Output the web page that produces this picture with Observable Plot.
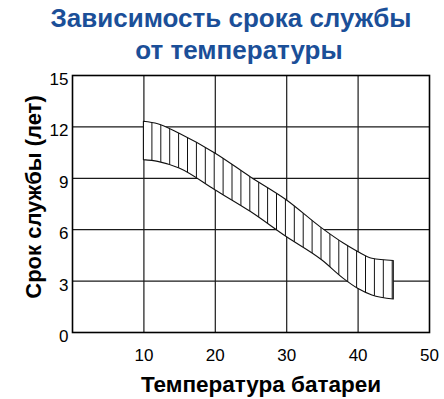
<!DOCTYPE html>
<html><head><meta charset="utf-8">
<script src="https://cdn.jsdelivr.net/npm/d3@7"></script>
<script src="https://cdn.jsdelivr.net/npm/@observablehq/plot@0.6"></script>
<style>
body{margin:0;background:#fff;font-family:"Liberation Sans",Arial,sans-serif;}
#title{width:444px;box-sizing:border-box;padding-top:2px;padding-left:18px;text-align:center;font-weight:bold;font-size:26px;line-height:32px;color:#1b4f98;height:61px;white-space:nowrap;}
#title span{position:relative;left:8px;}
</style></head>
<body>
<div id="title">Зависимость срока службы<br><span>от температуры</span></div>
<div id="chart"></div>
<script>
const temps = [10, 12, 15, 20, 25, 30, 35, 38, 40, 42, 45];
const upper = [12.3, 12.16, 11.6, 10.45, 9.05, 7.72, 6.06, 5.19, 4.7, 4.3, 4.17];
const lower = [10.06, 9.96, 9.57, 8.3, 7.03, 5.57, 4.2, 3.13, 2.55, 2.16, 1.93];
const xTicks = [10, 20, 30, 40, 50];
const yTicks = [0, 3, 6, 9, 12, 15];
const xLabel = "Температура батареи";
const yLabel = "Срок службы (лет)";

const data = temps.map((t, i) => ({t, hi: upper[i], lo: lower[i]}));
const font = "'Liberation Sans', Arial, sans-serif";

const svg = Plot.plot({
  width: 444, height: 338,
  marginTop: 14, marginBottom: 67, marginLeft: 72, marginRight: 15,
  style: {fontFamily: font, color: "#000", background: "#fff"},
  x: {domain: [0, 50]},
  y: {domain: [0, 15]},
  marks: [
    Plot.gridX([10, 20, 30, 40], {stroke: "#1a1a1a", strokeOpacity: 1, strokeWidth: 1.2}),
    Plot.gridY([3, 6, 9, 12], {stroke: "#1a1a1a", strokeOpacity: 1, strokeWidth: 1.2}),
    Plot.areaY(data, {x: "t", y1: "lo", y2: "hi", curve: "monotone-x", fill: "url(#hatch)", stroke: "#111", strokeWidth: 1.1}),
    Plot.frame({stroke: "#000", strokeWidth: 1.6}),
    Plot.axisX(xTicks, {tickSize: 0, tickPadding: 16, fontSize: 17, label: null, tickFormat: d => String(d)}),
    Plot.axisY(yTicks, {tickSize: 0, tickPadding: 4, fontSize: 17, label: null, dy: 4, tickFormat: d => String(d)}),
    Plot.text([xLabel], {frameAnchor: "bottom", textAnchor: "middle", dx: 10, dy: 52, fontSize: 22.5, fontWeight: "bold", lineAnchor: "middle", fill: "#000"}),
    Plot.text([yLabel], {frameAnchor: "left", textAnchor: "middle", dx: -39, dy: -7, rotate: -90, fontSize: 22, fontWeight: "bold", lineAnchor: "middle", fill: "#000"})
  ]
});

const defs = d3.select(svg).insert("defs", ":first-child");
const pat = defs.append("pattern").attr("id", "hatch").attr("patternUnits", "userSpaceOnUse")
  .attr("x", 143 - 4.45).attr("y", 0).attr("width", 8.9).attr("height", 20);
pat.append("rect").attr("width", 8.9).attr("height", 20).attr("fill", "#fff");
pat.append("line").attr("x1", 4.45).attr("x2", 4.45).attr("y1", 0).attr("y2", 20).attr("stroke", "#111").attr("stroke-width", 1);

document.getElementById("chart").appendChild(svg);
</script>
</body></html>
